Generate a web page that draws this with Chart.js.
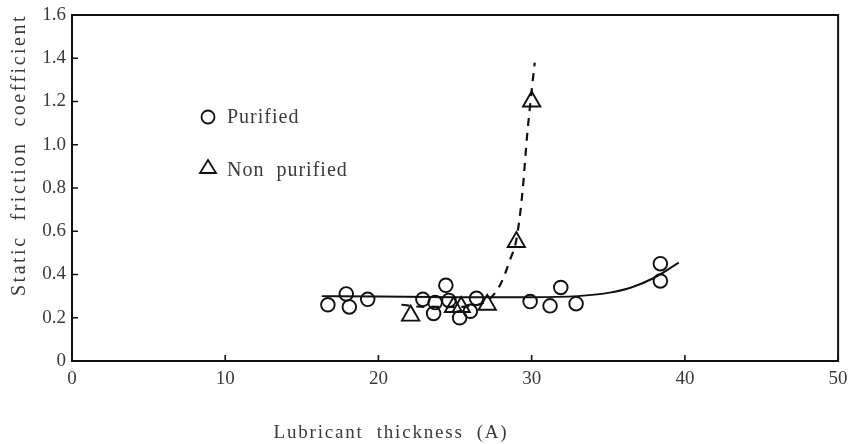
<!DOCTYPE html>
<html>
<head>
<meta charset="utf-8">
<script src="https://cdn.jsdelivr.net/npm/chart.js@4"></script>
<style>
  html, body { margin: 0; padding: 0; background: #fff; }
  #wrap { width: 850px; height: 444px; }
</style>
</head>
<body>
<div id="wrap"><canvas id="chartFriccion" width="850" height="444"></canvas></div>
<script>
// thickness in angstrom, static friction coefficient
const purifiedX = [16.7, 17.9, 18.1, 19.3, 22.9, 23.7, 23.6, 24.4, 24.6, 25.3, 26.0, 26.4, 29.9, 31.2, 31.9, 32.9, 38.4, 38.4];
const purifiedY = [0.26, 0.31, 0.25, 0.285, 0.285, 0.27, 0.22, 0.35, 0.28, 0.20, 0.23, 0.29, 0.275, 0.255, 0.34, 0.265, 0.45, 0.37];

const nonPurifiedX = [22.1, 24.9, 25.4, 27.1, 29.0, 30.0];
const nonPurifiedY = [0.21, 0.25, 0.25, 0.26, 0.55, 1.20];

// hand drawn trend lines
const purifiedFitX = [16.3, 20, 25, 30, 33, 35, 36.5, 38, 39.6];
const purifiedFitY = [0.30, 0.298, 0.295, 0.295, 0.30, 0.315, 0.34, 0.385, 0.455];

const nonPurifiedFitX = [21.5, 23, 25, 26.5, 27.3, 28.0, 28.6, 29.0, 29.4, 29.7, 30.0, 30.2];
const nonPurifiedFitY = [0.26, 0.25, 0.25, 0.26, 0.29, 0.36, 0.47, 0.56, 0.78, 1.04, 1.25, 1.38];

const xTicks = [0, 10, 20, 30, 40, 50];
const yTicks = [0, 0.2, 0.4, 0.6, 0.8, 1.0, 1.2, 1.4, 1.6];

const FONT = "'Liberation Serif', 'DejaVu Serif', serif";
const TEXT_COLOR = "#3a3a3a";

function pares(xs, ys) {
    return xs.map((x, i) => ({ x: x, y: ys[i] }));
}

// frame, inward tick marks, axis titles and legend
const marcoPlugin = {
    id: "marco",
    afterDraw(chart) {
        const ctx = chart.ctx;
        const area = chart.chartArea;
        const sx = chart.scales.x;
        const sy = chart.scales.y;

        ctx.save();
        ctx.strokeStyle = "#111";
        ctx.lineWidth = 2;
        ctx.strokeRect(area.left, area.top, area.right - area.left, area.bottom - area.top);

        ctx.lineWidth = 1.6;
        ctx.beginPath();
        xTicks.forEach(v => {
            const px = sx.getPixelForValue(v);
            ctx.moveTo(px, area.bottom);
            ctx.lineTo(px, area.bottom - 6);
        });
        yTicks.forEach(v => {
            const py = sy.getPixelForValue(v);
            ctx.moveTo(area.left, py);
            ctx.lineTo(area.left + 6, py);
        });
        ctx.stroke();

        ctx.fillStyle = TEXT_COLOR;
        ctx.textBaseline = "middle";

        // y title
        ctx.font = "20px " + FONT;
        ctx.letterSpacing = "2.5px";
        ctx.save();
        ctx.translate(20, 155);
        ctx.rotate(-Math.PI / 2);
        ctx.textAlign = "center";
        ctx.fillText("Static  friction  coefficient", 0, 0);
        ctx.restore();

        // x title
        ctx.font = "19px " + FONT;
        ctx.letterSpacing = "1.8px";
        ctx.textAlign = "center";
        ctx.fillText("Lubricant  thickness  (A)", 391, 433);

        // legend
        ctx.font = "20px " + FONT;
        ctx.letterSpacing = "1px";
        ctx.textAlign = "left";
        ctx.fillText("Purified", 227, 118);
        ctx.fillText("Non  purified", 227, 171);

        ctx.strokeStyle = "#111";
        ctx.lineWidth = 1.8;
        ctx.beginPath();
        ctx.arc(208, 117, 6.5, 0, Math.PI * 2);
        ctx.stroke();

        ctx.beginPath();
        ctx.moveTo(208, 160);
        ctx.lineTo(216, 173);
        ctx.lineTo(200, 173);
        ctx.closePath();
        ctx.stroke();

        ctx.restore();
    }
};

function crearGrafico() {
    const ctx = document.getElementById("chartFriccion");

    new Chart(ctx, {
        type: "scatter",
        data: {
            datasets: [
                {
                    label: "Purified fit",
                    data: pares(purifiedFitX, purifiedFitY),
                    showLine: true,
                    borderColor: "#111",
                    borderWidth: 2,
                    pointRadius: 0,
                    cubicInterpolationMode: "monotone",
                    fill: false
                },
                {
                    label: "Non purified fit",
                    data: pares(nonPurifiedFitX, nonPurifiedFitY),
                    showLine: true,
                    borderColor: "#111",
                    borderWidth: 2.2,
                    borderDash: [8, 7],
                    pointRadius: 0,
                    cubicInterpolationMode: "monotone",
                    fill: false
                },
                {
                    label: "Purified",
                    data: pares(purifiedX, purifiedY),
                    pointStyle: "circle",
                    pointRadius: 6.8,
                    pointBorderWidth: 1.9,
                    pointBorderColor: "#111",
                    pointBackgroundColor: "rgba(255,255,255,0)"
                },
                {
                    label: "Non purified",
                    data: pares(nonPurifiedX, nonPurifiedY),
                    pointStyle: "triangle",
                    pointRadius: 10,
                    pointBorderWidth: 1.9,
                    pointBorderColor: "#111",
                    pointBackgroundColor: "rgba(255,255,255,0)"
                }
            ]
        },
        options: {
            responsive: false,
            animation: false,
            layout: { padding: { left: 0, right: 4, top: 15, bottom: 0 } },
            plugins: {
                legend: { display: false },
                tooltip: { enabled: false }
            },
            scales: {
                x: {
                    type: "linear",
                    min: 0,
                    max: 50,
                    afterBuildTicks: s => { s.ticks = xTicks.map(v => ({ value: v })); },
                    grid: { display: false, drawTicks: false },
                    border: { display: false },
                    ticks: {
                        color: TEXT_COLOR,
                        font: { family: FONT, size: 19 },
                        padding: 7,
                        maxRotation: 0
                    },
                    afterFit: s => { s.height = 83; s.paddingLeft = 0; s.paddingRight = 0; }
                },
                y: {
                    type: "linear",
                    min: 0,
                    max: 1.6,
                    afterBuildTicks: s => { s.ticks = yTicks.map(v => ({ value: v })); },
                    grid: { display: false, drawTicks: false },
                    border: { display: false },
                    ticks: {
                        color: TEXT_COLOR,
                        font: { family: FONT, size: 19 },
                        padding: 6,
                        callback: v => v === 0 ? "0" : v.toFixed(1)
                    },
                    afterFit: s => { s.width = 72; s.paddingTop = 0; s.paddingBottom = 0; }
                }
            }
        },
        plugins: [marcoPlugin]
    });
}

document.addEventListener("DOMContentLoaded", crearGrafico);
</script>
</body>
</html>
